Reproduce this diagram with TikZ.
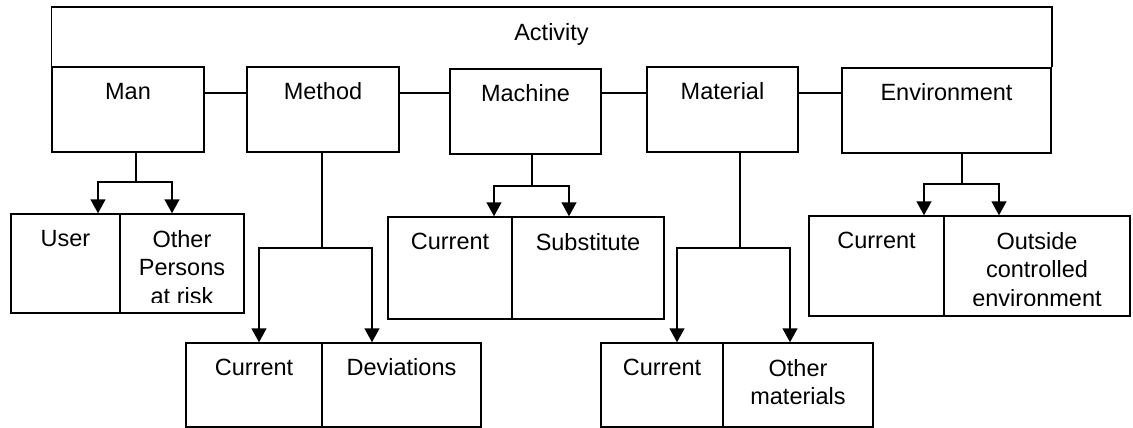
\documentclass[tikz,border=0pt]{standalone}
\usepackage{fontspec}
\setmainfont{Liberation Sans}
\usetikzlibrary{arrows.meta,fit}
\begin{document}
\begin{tikzpicture}[x=1pt,y=-1pt,
  box/.style={draw, line width=1.5pt, rectangle, inner sep=0pt},
  lbl/.style={anchor=north, inner sep=0pt, align=center, font=\fontsize{23.5}{28.5}\selectfont},
  ln/.style={line width=1.5pt},
  arr/.style={line width=1.5pt, -{Triangle[width=15pt,length=14pt]}}]
\useasboundingbox (0,0) rectangle (1133,428);

% top-level boxes
\node[box, fit={(52,67)(204,152)}] (man) {};
\node[box, fit={(247,67)(399,152)}] (method) {};
\node[box, fit={(450,69)(601,154)}] (machine) {};
\node[box, fit={(647,67)(798,152)}] (material) {};
\node[box, fit={(842,68)(1051,153)}] (env) {};

% activity frame
\coordinate (acttop) at (551.5,7);
\draw[ln] (man.north west) |- (acttop) -| (env.north east);
\node[lbl] (activity) at ([yshift=-16pt]acttop) {Activity};

\node[lbl] (manl) at ([yshift=-16.5pt]man.north) {Man};
\node[lbl] (methodl) at ([yshift=-16.5pt]method.north) {Method};
\node[lbl] (machinel) at ([yshift=-16.5pt]machine.north) {Machine};
\node[lbl] (materiall) at ([yshift=-16.5pt]material.north) {Material};
\node[lbl] (envl) at ([yshift=-16.5pt]env.north) {Environment};

% horizontal links
\coordinate (hy) at (0,93);
\draw[ln] (man.east |- hy) -- (method.west |- hy);
\draw[ln] (method.east |- hy) -- (machine.west |- hy);
\draw[ln] (machine.east |- hy) -- (material.west |- hy);
\draw[ln] (material.east |- hy) -- (env.west |- hy);

% Man children
\node[box, fit={(11,214)(120,313)}] (user) {};
\node[box, fit={(120,214)(244,313)}] (oth) {};
\node[lbl] (userl) at ([yshift=-17pt]user.north) {User};
\begin{scope}
\clip (oth.north west) rectangle ([yshift=11pt]oth.south east);
\node[lbl] (othl) at ([yshift=-17pt]oth.north) {Other\\Persons\\at risk};
\end{scope}
\coordinate (mans) at (136,182);
\coordinate (manL) at (98,182);
\coordinate (manR) at (172,182);
\draw[ln] (man.south -| mans) -- (mans);
\draw[arr] (mans) -| (manL |- user.north);
\draw[arr] (mans) -| (manR |- oth.north);

% Method children
\node[box, fit={(186,343)(322,427)}] (metcur) {};
\node[box, fit={(322,343)(481,427)}] (metdev) {};
\node[lbl] (metcurl) at ([yshift=-16.5pt]metcur.north) {Current};
\node[lbl] (metdevl) at ([yshift=-16.5pt]metdev.north) {Deviations};
\coordinate (mets) at (322,248);
\coordinate (metL) at (259,248);
\coordinate (metR) at (372,248);
\draw[ln] (method.south -| mets) -- (mets);
\draw[arr] (mets) -| (metL |- metcur.north);
\draw[arr] (mets) -| (metR |- metdev.north);

% Machine children
\node[box, fit={(388,217)(512,319)}] (maccur) {};
\node[box, fit={(512,217)(664,319)}] (macsub) {};
\node[lbl] (maccurl) at ([yshift=-17pt]maccur.north) {Current};
\node[lbl] (macsubl) at ([yshift=-17pt]macsub.north) {Substitute};
\coordinate (macs) at (532,186);
\coordinate (macL) at (494,186);
\coordinate (macR) at (569,186);
\draw[ln] (machine.south -| macs) -- (macs);
\draw[arr] (macs) -| (macL |- maccur.north);
\draw[arr] (macs) -| (macR |- macsub.north);

% Material children
\node[box, fit={(601,343)(723,427)}] (matcur) {};
\node[box, fit={(723,343)(873,427)}] (matoth) {};
\node[lbl] (matcurl) at ([yshift=-17pt]matcur.north) {Current};
\node[lbl] (matothl) at ([yshift=-17pt]matoth.north) {Other\\materials};
\coordinate (mats) at (740,248);
\coordinate (matL) at (677,248);
\coordinate (matR) at (790,248);
\draw[ln] (material.south -| mats) -- (mats);
\draw[arr] (mats) -| (matL |- matcur.north);
\draw[arr] (mats) -| (matR |- matoth.north);

% Environment children
\node[box, fit={(809,216)(944,316)}] (envcur) {};
\node[box, fit={(944,216)(1130,316)}] (envout) {};
\node[lbl] (envcurl) at ([yshift=-17pt]envcur.north) {Current};
\begin{scope}
\clip (envout.north west) rectangle ([yshift=11.5pt]envout.south east);
\node[lbl] (envoutl) at ([yshift=-17pt]envout.north) {Outside\\controlled\\environment};
\end{scope}
\coordinate (envs) at (962,184);
\coordinate (envL) at (924,184);
\coordinate (envR) at (999,184);
\draw[ln] (env.south -| envs) -- (envs);
\draw[arr] (envs) -| (envL |- envcur.north);
\draw[arr] (envs) -| (envR |- envout.north);
\end{tikzpicture}
\end{document}
